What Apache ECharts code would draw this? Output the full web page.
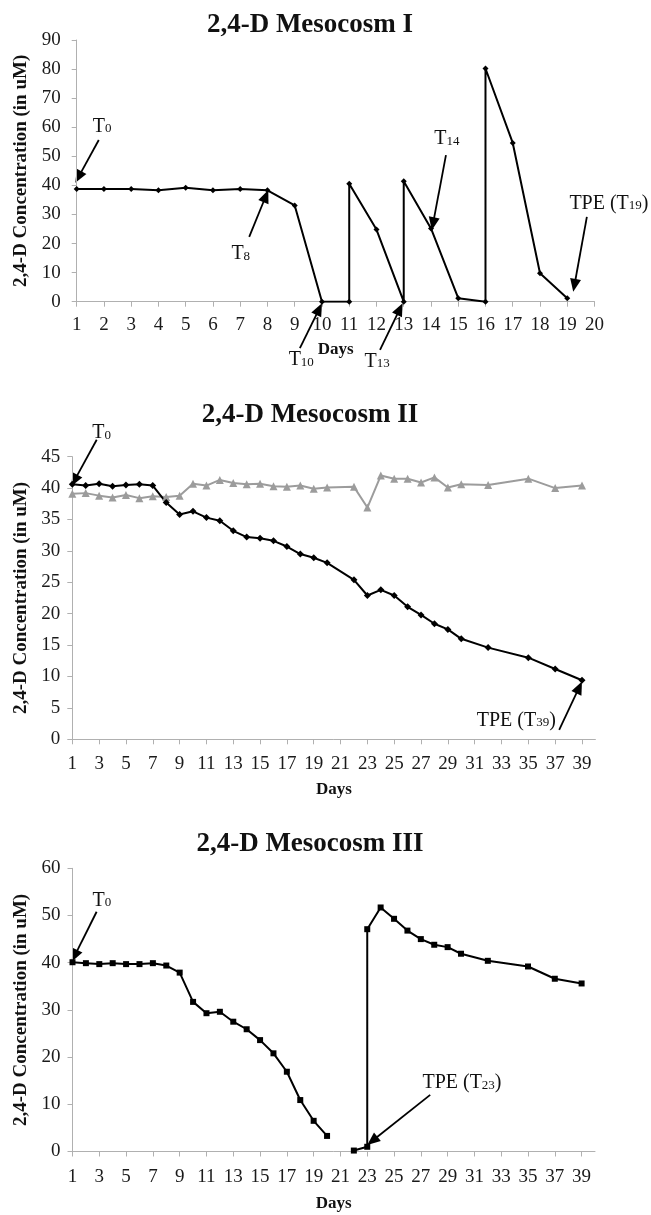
<!DOCTYPE html>
<html>
<head>
<meta charset="utf-8">
<script src="https://cdn.jsdelivr.net/npm/echarts@6/dist/echarts.min.js"></script>
<style>
html,body{margin:0;padding:0;background:#fff;}
#chart{width:651px;height:1215px;}
</style>
</head>
<body>
<div id="chart"></div>
<script>
// ---------------- DATA ----------------
const TITLES = ['2,4-D Mesocosm I', '2,4-D Mesocosm II', '2,4-D Mesocosm III'];
const Y_NAME = '2,4-D Concentration (in uM)';
const X_NAME = 'Days';

// Mesocosm I (repeated day = re-dosing jump)
const DAYS_I = [1, 2, 3, 4, 5, 6, 7, 8, 9, 10, 11, 11, 12, 13, 13, 14, 15, 16, 16, 17, 18, 19];
const CONC_I = [38.8, 38.8, 38.8, 38.3, 39.2, 38.3, 38.8, 38.3, 33.1, 0, 0, 40.6, 24.8, 0, 41.4, 25.2, 1.2, 0, 80.2, 54.6, 9.8, 1.2];

// Mesocosm II
const DAYS_II = [1, 2, 3, 4, 5, 6, 7, 8, 9, 10, 11, 12, 13, 14, 15, 16, 17, 18, 19, 20, 22, 23, 24, 25, 26, 27, 28, 29, 30, 32, 35, 37, 39];
const CONC_II_TREAT = [40.6, 40.4, 40.7, 40.3, 40.5, 40.6, 40.4, 37.7, 35.8, 36.3, 35.3, 34.8, 33.2, 32.2, 32.0, 31.6, 30.7, 29.5, 28.9, 28.1, 25.4, 22.9, 23.8, 22.9, 21.1, 19.8, 18.4, 17.5, 16.0, 14.6, 13.0, 11.2, 9.4];
const CONC_II_CTRL = [39.1, 39.2, 38.8, 38.5, 38.9, 38.4, 38.7, 38.6, 38.8, 40.7, 40.4, 41.3, 40.8, 40.6, 40.7, 40.3, 40.2, 40.4, 39.9, 40.1, 40.2, 36.9, 42.0, 41.5, 41.5, 40.9, 41.7, 40.1, 40.6, 40.5, 41.5, 40.0, 40.4];

// Mesocosm III (null = no measurement, line broken)
const DAYS_III = [1, 2, 3, 4, 5, 6, 7, 8, 9, 10, 11, 12, 13, 14, 15, 16, 17, 18, 19, 20, 21, 22, 23, 23, 24, 25, 26, 27, 28, 29, 30, 32, 35, 37, 39];
const CONC_III = [40.1, 39.9, 39.7, 39.9, 39.7, 39.7, 39.9, 39.4, 37.9, 31.7, 29.3, 29.6, 27.5, 25.9, 23.6, 20.8, 16.9, 10.9, 6.5, 3.3, null, 0.2, 1.0, 47.1, 51.7, 49.3, 46.8, 45.0, 43.8, 43.3, 41.9, 40.4, 39.2, 36.6, 35.6];

// x tick labels of panels II and III (every other one shown)
const DAY_TICKS_LONG = ['1','2','3','4','5','6','7','8','9','10','11','12','13','14','15','16','17','18','19','20','21','22','23','24','25','26','27','28','29','30','31','32','33','34','35','36','37','38','39','40'];

// Annotations: label, subscript, text position and arrow (tail -> head), in data units
const NOTES_I = [
  {main: 'T', sub: '0', after: '', tx: 1.93, ty: 60.5, x1: 1.81, y1: 55.6, x2: 0.95, y2: 40.9},
  {main: 'T', sub: '8', after: '', tx: 7.02, ty: 16.6, x1: 7.33, y1: 22.3, x2: 8.03, y2: 38.4},
  {main: 'T', sub: '10', after: '', tx: 9.24, ty: -19.8, x1: 9.19, y1: -16.0, x2: 10.0, y2: -0.5},
  {main: 'T', sub: '13', after: '', tx: 12.02, ty: -20.4, x1: 12.13, y1: -16.6, x2: 12.96, y2: -0.5},
  {main: 'T', sub: '14', after: '', tx: 14.58, ty: 56.1, x1: 14.55, y1: 50.4, x2: 14.03, y2: 24.6},
  {main: 'TPE (T', sub: '19', after: ')', tx: 20.53, ty: 34.0, x1: 19.72, y1: 29.2, x2: 19.22, y2: 3.4}
];
const NOTES_II = [
  {main: 'T', sub: '0', after: '', tx: 3.19, ty: 48.9, x1: 2.82, y1: 47.7, x2: 0.92, y2: 40.3},
  {main: 'TPE (T', sub: '39', after: ')', tx: 34.1, ty: 3.1, x1: 37.3, y1: 1.5, x2: 39.0, y2: 9.2}
];
const NOTES_III = [
  {main: 'T', sub: '0', after: '', tx: 3.2, ty: 53.3, x1: 2.8, y1: 50.8, x2: 0.94, y2: 40.2},
  {main: 'TPE (T', sub: '23', after: ')', tx: 30.07, ty: 14.6, x1: 27.7, y1: 12.0, x2: 23.0, y2: 1.4}
];

// ---------------- STYLE ----------------
const SERIF = "'Liberation Serif', 'Times New Roman', 'DejaVu Serif', serif";
const AXIS_GRAY = '#b0b0b0';
const pairs = (xs, ys) => xs.map((x, i) => [x, ys[i] === null ? '-' : ys[i]]);

const chart = echarts.init(document.getElementById('chart'), null, {renderer: 'canvas'});

const yAxisBase = (gridIndex, max, interval, nameGap, margin) => ({
  type: 'value', gridIndex, min: 0, max, interval, position: 'left',
  name: Y_NAME, nameLocation: 'middle', nameGap,
  nameTextStyle: {fontFamily: SERIF, fontWeight: 'bold', fontSize: 19, color: '#111'},
  axisLine: {show: true, onZero: false, lineStyle: {color: AXIS_GRAY, width: 1}},
  axisTick: {show: true, length: 5, lineStyle: {color: AXIS_GRAY}},
  axisLabel: {fontFamily: SERIF, fontSize: 19, color: '#1a1a1a', margin},
  splitLine: {show: false}
});

const catAxis = (gridIndex, nameGap, margin) => ({
  type: 'category', gridIndex, data: DAY_TICKS_LONG, boundaryGap: false, position: 'bottom',
  name: X_NAME, nameLocation: 'middle', nameGap,
  nameTextStyle: {fontFamily: SERIF, fontWeight: 'bold', fontSize: 17, color: '#111'},
  axisLine: {show: true, onZero: false, lineStyle: {color: AXIS_GRAY}},
  axisTick: {show: true, length: 5, interval: 1, lineStyle: {color: AXIS_GRAY}},
  axisLabel: {interval: 1, fontFamily: SERIF, fontSize: 19, color: '#1a1a1a', margin},
  splitLine: {show: false}
});

const option = {
  animation: false,
  backgroundColor: '#fff',
  title: TITLES.map((t, i) => ({
    text: t, left: 310, textAlign: 'center', top: [12, 402, 831][i], padding: 0,
    textStyle: {fontFamily: SERIF, fontWeight: 'bold', fontSize: 27, color: '#111'}
  })),
  grid: [
    {left: 76.7, top: 40, width: 517.8, height: 261.7, containLabel: false, outerBoundsMode: 'none'},
    {left: 72.3, top: 456.7, width: 523.1, height: 282.6, containLabel: false, outerBoundsMode: 'none'},
    {left: 72.5, top: 868.3, width: 522.5, height: 283.2, containLabel: false, outerBoundsMode: 'none'}
  ],
  xAxis: [
    {
      type: 'value', gridIndex: 0, min: 1, max: 20, interval: 1, position: 'bottom',
      name: X_NAME, nameLocation: 'middle', nameGap: 39,
      nameTextStyle: {fontFamily: SERIF, fontWeight: 'bold', fontSize: 17, color: '#111'},
      axisLine: {show: true, onZero: false, lineStyle: {color: AXIS_GRAY}},
      axisTick: {show: true, length: 5, lineStyle: {color: AXIS_GRAY}},
      axisLabel: {fontFamily: SERIF, fontSize: 19, color: '#1a1a1a', margin: 14},
      splitLine: {show: false}
    },
    {type: 'value', gridIndex: 1, min: 1, max: 40, position: 'bottom', show: false},
    catAxis(1, 42, 15),
    {type: 'value', gridIndex: 2, min: 1, max: 40, position: 'bottom', show: false},
    catAxis(2, 44, 16)
  ],
  yAxis: [
    yAxisBase(0, 90, 10, 43, 16),
    yAxisBase(1, 45, 5, 39, 12),
    yAxisBase(2, 60, 10, 39, 12)
  ],
  series: [
    {
      type: 'line', xAxisIndex: 0, yAxisIndex: 0, data: pairs(DAYS_I, CONC_I),
      symbol: 'diamond', symbolSize: 6, showAllSymbol: true,
      lineStyle: {color: '#000', width: 2}, itemStyle: {color: '#000'}
    },
    {
      type: 'line', xAxisIndex: 1, yAxisIndex: 1, data: pairs(DAYS_II, CONC_II_CTRL),
      symbol: 'triangle', symbolSize: 8, showAllSymbol: true,
      lineStyle: {color: '#9c9c9c', width: 2}, itemStyle: {color: '#9c9c9c'}
    },
    {
      type: 'line', xAxisIndex: 1, yAxisIndex: 1, data: pairs(DAYS_II, CONC_II_TREAT),
      symbol: 'diamond', symbolSize: 7, showAllSymbol: true,
      lineStyle: {color: '#000', width: 2}, itemStyle: {color: '#000'}
    },
    {
      type: 'line', xAxisIndex: 3, yAxisIndex: 2, data: pairs(DAYS_III, CONC_III),
      symbol: 'rect', symbolSize: 6, showAllSymbol: true, connectNulls: false,
      lineStyle: {color: '#000', width: 2}, itemStyle: {color: '#000'}
    }
  ]
};

chart.setOption(option);

// ---------------- ANNOTATIONS (positioned through the chart's own scales) ----------------
function buildNotes(notes, seriesIndex) {
  const els = [];
  notes.forEach(n => {
    const t = chart.convertToPixel({seriesIndex}, [n.tx, n.ty]);
    const a = chart.convertToPixel({seriesIndex}, [n.x1, n.y1]);
    const b = chart.convertToPixel({seriesIndex}, [n.x2, n.y2]);
    const dx = b[0] - a[0], dy = b[1] - a[1];
    const len = Math.sqrt(dx * dx + dy * dy);
    const ux = dx / len, uy = dy / len;
    const L = 13, W = 5.5;
    const bx = b[0] - ux * L, by = b[1] - uy * L;
    els.push({
      type: 'line', silent: true,
      shape: {x1: a[0], y1: a[1], x2: bx + ux * 2, y2: by + uy * 2},
      style: {stroke: '#000', lineWidth: 1.8}
    });
    els.push({
      type: 'polygon', silent: true,
      shape: {points: [[b[0], b[1]], [bx - uy * W, by + ux * W], [bx + uy * W, by - ux * W]]},
      style: {fill: '#000'}
    });
    els.push({
      type: 'text', silent: true, x: t[0], y: t[1],
      style: {
        text: '{m|' + n.main + '}{s|' + n.sub + '}' + (n.after ? '{m|' + n.after + '}' : ''),
        align: 'center', verticalAlign: 'middle', fill: '#111',
        fontFamily: SERIF, fontSize: 20,
        rich: {
          m: {fontFamily: SERIF, fontSize: 20, lineHeight: 21, verticalAlign: 'bottom', fill: '#111'},
          s: {fontFamily: SERIF, fontSize: 13, lineHeight: 14, verticalAlign: 'bottom', fill: '#111', padding: [0, 0, 1, 0]}
        }
      }
    });
  });
  return els;
}

const graphics = []
  .concat(buildNotes(NOTES_I, 0))
  .concat(buildNotes(NOTES_II, 2))
  .concat(buildNotes(NOTES_III, 3));
chart.setOption({graphic: graphics});
</script>
</body>
</html>
